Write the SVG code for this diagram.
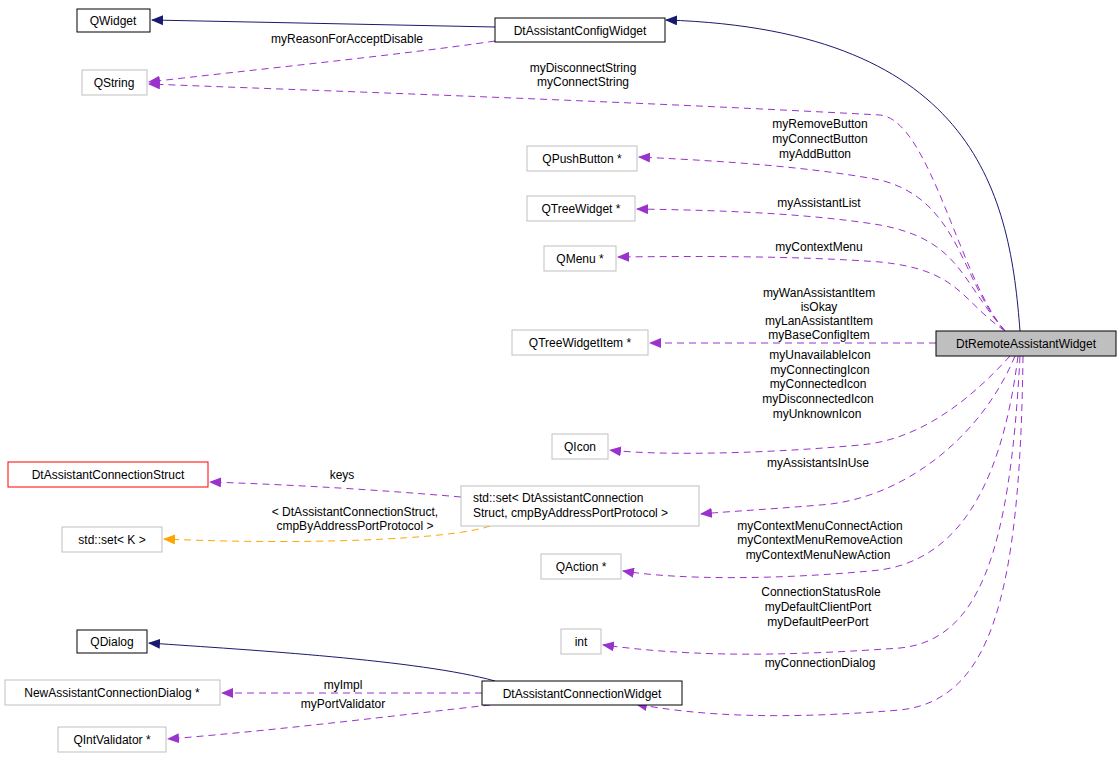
<svg xmlns="http://www.w3.org/2000/svg" width="1120" height="763" viewBox="0 0 1120 763">
<defs>
<style>
text{font-family:"Liberation Sans",Arial,sans-serif;font-size:12px;fill:#000}
.n rect{fill:#fff;stroke:#bfbfbf;stroke-width:1}
.b rect{stroke:#000}
.r rect{stroke:#ff0000}
.m rect{fill:#bfbfbf;stroke:#000}
.c{text-anchor:middle}
.e{fill:none;stroke-width:1}
.p{stroke:#9a32cd;stroke-dasharray:7,5}
.v{stroke:#191970}
.o{stroke:#ffa500;stroke-dasharray:7,5}
</style>
<marker id="ap" markerWidth="12" markerHeight="10" refX="11" refY="5" orient="auto" markerUnits="userSpaceOnUse"><path d="M0,0 L12,5 L0,10 Z" fill="#9a32cd"/></marker>
<marker id="av" markerWidth="12" markerHeight="10" refX="11" refY="5" orient="auto" markerUnits="userSpaceOnUse"><path d="M0,0 L12,5 L0,10 Z" fill="#191970"/></marker>
<marker id="ao" markerWidth="12" markerHeight="10" refX="11" refY="5" orient="auto" markerUnits="userSpaceOnUse"><path d="M0,0 L12,5 L0,10 Z" fill="#ffa500"/></marker>
</defs>
<rect width="1120" height="763" fill="#fff"/>
<g id="edges">
<path class="e v" d="M1020,331 C1010,200 980,30 666,20" marker-end="url(#av)"/>
<path class="e v" d="M495,27 L152,20" marker-end="url(#av)"/>
<path class="e v" d="M495,681 C420,660 250,650 149,643" marker-end="url(#av)"/>
<path class="e p" d="M495,41 C400,55 250,70 149,82" marker-end="url(#ap)"/>
<path class="e p" d="M1005,331 C960,280 930,120 880,115 C600,100 300,90 149,84" marker-end="url(#ap)"/>
<path class="e p" d="M1005,331 C960,280 960,200 880,180 C800,165 700,160 639,157" marker-end="url(#ap)"/>
<path class="e p" d="M1005,331 C960,280 960,240 880,225 C800,212 700,210 637,209" marker-end="url(#ap)"/>
<path class="e p" d="M1005,331 C960,300 960,270 880,262 C800,256 700,256 618,257" marker-end="url(#ap)"/>
<path class="e p" d="M936,343 L650,343" marker-end="url(#ap)"/>
<path class="e p" d="M1010,356 C970,400 920,440 860,445 C750,455 650,455 610,450" marker-end="url(#ap)"/>
<path class="e p" d="M1015,356 C980,440 900,500 820,505 C760,510 720,512 701,514" marker-end="url(#ap)"/>
<path class="e p" d="M1018,356 C1000,500 950,560 880,570 C780,580 680,580 623,571" marker-end="url(#ap)"/>
<path class="e p" d="M1020,356 C1010,550 980,640 900,648 C760,658 680,655 603,645" marker-end="url(#ap)"/>
<path class="e p" d="M1023,356 C1020,600 990,700 900,710 C780,720 700,716 636,704" marker-end="url(#ap)"/>
<path class="e p" d="M461,497 C380,490 300,485 210,482" marker-end="url(#ap)"/>
<path class="e o" d="M490,526 C450,540 300,545 164,539" marker-end="url(#ao)"/>
<path class="e p" d="M482,693 L222,693" marker-end="url(#ap)"/>
<path class="e p" d="M490,705 C400,715 280,730 168,739" marker-end="url(#ap)"/>
</g>
<g id="labels">
<text class="c" x="347" y="43">myReasonForAcceptDisable</text>
<text class="c" x="583" y="72">myDisconnectString</text>
<text class="c" x="583" y="86">myConnectString</text>
<text class="c" x="820" y="128">myRemoveButton</text>
<text class="c" x="820" y="143">myConnectButton</text>
<text class="c" x="815" y="158">myAddButton</text>
<text class="c" x="819" y="207">myAssistantList</text>
<text class="c" x="819" y="251">myContextMenu</text>
<text class="c" x="819" y="297">myWanAssistantItem</text>
<text class="c" x="819" y="311">isOkay</text>
<text class="c" x="819" y="325">myLanAssistantItem</text>
<text class="c" x="819" y="339">myBaseConfigItem</text>
<text class="c" x="820" y="359">myUnavailableIcon</text>
<text class="c" x="820" y="374">myConnectingIcon</text>
<text class="c" x="818" y="388">myConnectedIcon</text>
<text class="c" x="818" y="403">myDisconnectedIcon</text>
<text class="c" x="817" y="418">myUnknownIcon</text>
<text class="c" x="818" y="467">myAssistantsInUse</text>
<text class="c" x="342" y="479">keys</text>
<text class="c" x="355" y="516">&lt; DtAssistantConnectionStruct,</text>
<text class="c" x="355" y="530">cmpByAddressPortProtocol &gt;</text>
<text class="c" x="820" y="530">myContextMenuConnectAction</text>
<text class="c" x="820" y="544">myContextMenuRemoveAction</text>
<text class="c" x="818" y="559">myContextMenuNewAction</text>
<text class="c" x="821" y="596">ConnectionStatusRole</text>
<text class="c" x="818" y="611">myDefaultClientPort</text>
<text class="c" x="818" y="626">myDefaultPeerPort</text>
<text class="c" x="820" y="667">myConnectionDialog</text>
<text class="c" x="343" y="689">myImpl</text>
<text class="c" x="343" y="708">myPortValidator</text>
</g>
<g id="QWidget" class="n b"><rect x="77" y="9" width="73" height="23"/><text class="c" x="113" y="25">QWidget</text></g>
<g id="DtAssistantConfigWidget" class="n b"><rect x="495" y="18" width="170" height="24"/><text class="c" x="580" y="35">DtAssistantConfigWidget</text></g>
<g id="QString" class="n"><rect x="82" y="70" width="65" height="25"/><text class="c" x="114" y="87">QString</text></g>
<g id="QPushButton" class="n"><rect x="527" y="146" width="110" height="25"/><text class="c" x="582" y="163">QPushButton *</text></g>
<g id="QTreeWidget" class="n"><rect x="527" y="196" width="108" height="25"/><text class="c" x="581" y="213">QTreeWidget *</text></g>
<g id="QMenu" class="n"><rect x="544" y="246" width="72" height="25"/><text class="c" x="580" y="263">QMenu *</text></g>
<g id="QTreeWidgetItem" class="n"><rect x="512" y="330" width="136" height="25"/><text class="c" x="580" y="347">QTreeWidgetItem *</text></g>
<g id="DtRemoteAssistantWidget" class="n m"><rect x="936" y="331" width="180" height="25"/><text class="c" x="1026" y="348">DtRemoteAssistantWidget</text></g>
<g id="QIcon" class="n"><rect x="552" y="434" width="56" height="25"/><text class="c" x="580" y="451">QIcon</text></g>
<g id="DtAssistantConnectionStruct" class="n r"><rect x="8" y="462" width="200" height="25"/><text class="c" x="108" y="479">DtAssistantConnectionStruct</text></g>
<g id="stdset" class="n"><rect x="461" y="486" width="238" height="40"/><text x="473" y="502">std::set&lt; DtAssistantConnection</text><text x="473" y="517">Struct, cmpByAddressPortProtocol &gt;</text></g>
<g id="stdsetK" class="n"><rect x="62" y="527" width="100" height="25"/><text class="c" x="112" y="544">std::set&lt; K &gt;</text></g>
<g id="QAction" class="n"><rect x="541" y="554" width="80" height="25"/><text class="c" x="581" y="571">QAction *</text></g>
<g id="int" class="n"><rect x="561" y="629" width="40" height="25"/><text class="c" x="581" y="646">int</text></g>
<g id="QDialog" class="n b"><rect x="77" y="630" width="70" height="23"/><text class="c" x="112" y="646">QDialog</text></g>
<g id="NewAssistantConnectionDialog" class="n"><rect x="5" y="680" width="215" height="25"/><text class="c" x="112" y="697">NewAssistantConnectionDialog *</text></g>
<g id="DtAssistantConnectionWidget" class="n b"><rect x="482" y="681" width="200" height="24"/><text class="c" x="582" y="698">DtAssistantConnectionWidget</text></g>
<g id="QIntValidator" class="n"><rect x="58" y="727" width="108" height="25"/><text class="c" x="112" y="744">QIntValidator *</text></g>
</svg>
